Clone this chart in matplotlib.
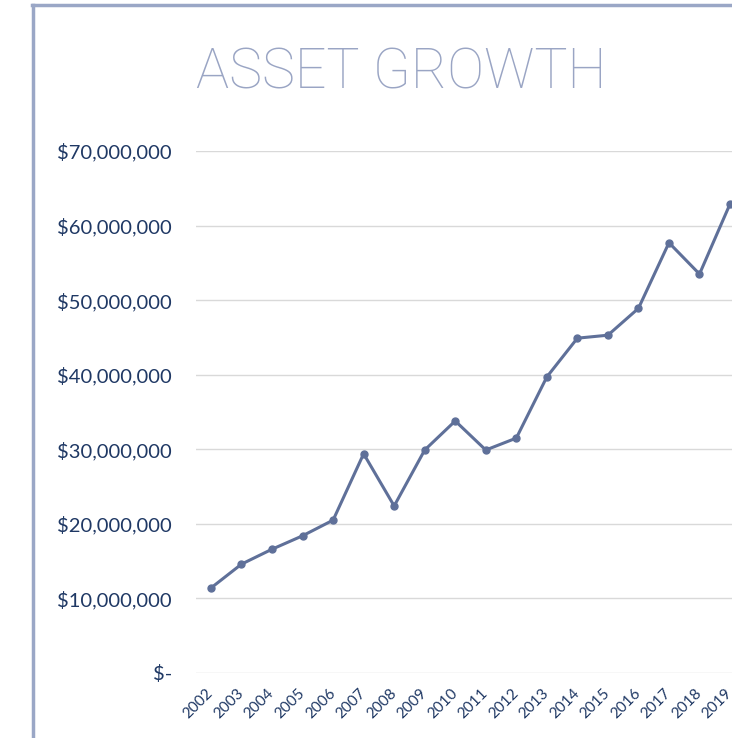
import matplotlib
matplotlib.use("Agg")
import matplotlib.pyplot as plt
from matplotlib.lines import Line2D
from matplotlib.ticker import FuncFormatter

years = [str(y) for y in range(2002, 2020)]
assets = [11.4e6, 14.6e6, 16.6e6, 18.4e6, 20.5e6, 29.4e6, 22.4e6, 29.9e6, 33.8e6,
          29.9e6, 31.5e6, 39.7e6, 44.9e6, 45.3e6, 48.9e6, 57.7e6, 53.5e6, 62.9e6]
yticks = [0, 10e6, 20e6, 30e6, 40e6, 50e6, 60e6, 70e6]

W, H = 732, 738
fig = plt.figure(figsize=(W / 100, H / 100), dpi=100)
fig.patch.set_facecolor("white")

left = 195.7 / W
right = 745.3 / W
bottom = 1 - 673 / H
top = 1 - 151 / H
ax = fig.add_axes([left, bottom, right - left, top - bottom])

x = list(range(len(years)))
ax.plot(x, assets, color="#5f7099", lw=2.2, marker="o", ms=5, zorder=3)
ax.set_xlim(-0.5, len(years) - 0.5)
ax.set_ylim(0, 70e6)
ax.set_yticks(yticks)
ax.yaxis.set_major_formatter(FuncFormatter(lambda v, p: "$-" if v == 0 else f"${v:,.0f}"))
ax.grid(axis="y", color="#d9d9d9", lw=1)
ax.set_axisbelow(True)
for s in ax.spines.values():
    s.set_visible(False)
ax.tick_params(axis="both", length=0)
ax.tick_params(axis="y", pad=17, labelsize=14.5, labelcolor="#1f3864")
ax.set_xticks(x)
ax.set_xticklabels(years, rotation=45, ha="right", va="center", rotation_mode="anchor",
                   fontsize=11, color="#1f3864")
ax.tick_params(axis="x", pad=13)
for lab in ax.get_yticklabels() + ax.get_xticklabels():
    lab.set_family(["Lato", "DejaVu Sans"])

fig.text(401 / W, 1 - 73 / H, "ASSET GROWTH", ha="center", va="center",
         fontsize=40, color="#9aa5c4", family=["Roboto", "DejaVu Sans"], fontweight="light")

border = "#9aa7c6"
fig.add_artist(Line2D([33 / W, 33 / W], [0, 1 - 5 / H], color=border, lw=2.5,
                      transform=fig.transFigure))
fig.add_artist(Line2D([32 / W, 1.0], [1 - 5 / H, 1 - 5 / H], color=border, lw=2.5,
                      transform=fig.transFigure))

fig.savefig("out.png", dpi=100, facecolor="white")
